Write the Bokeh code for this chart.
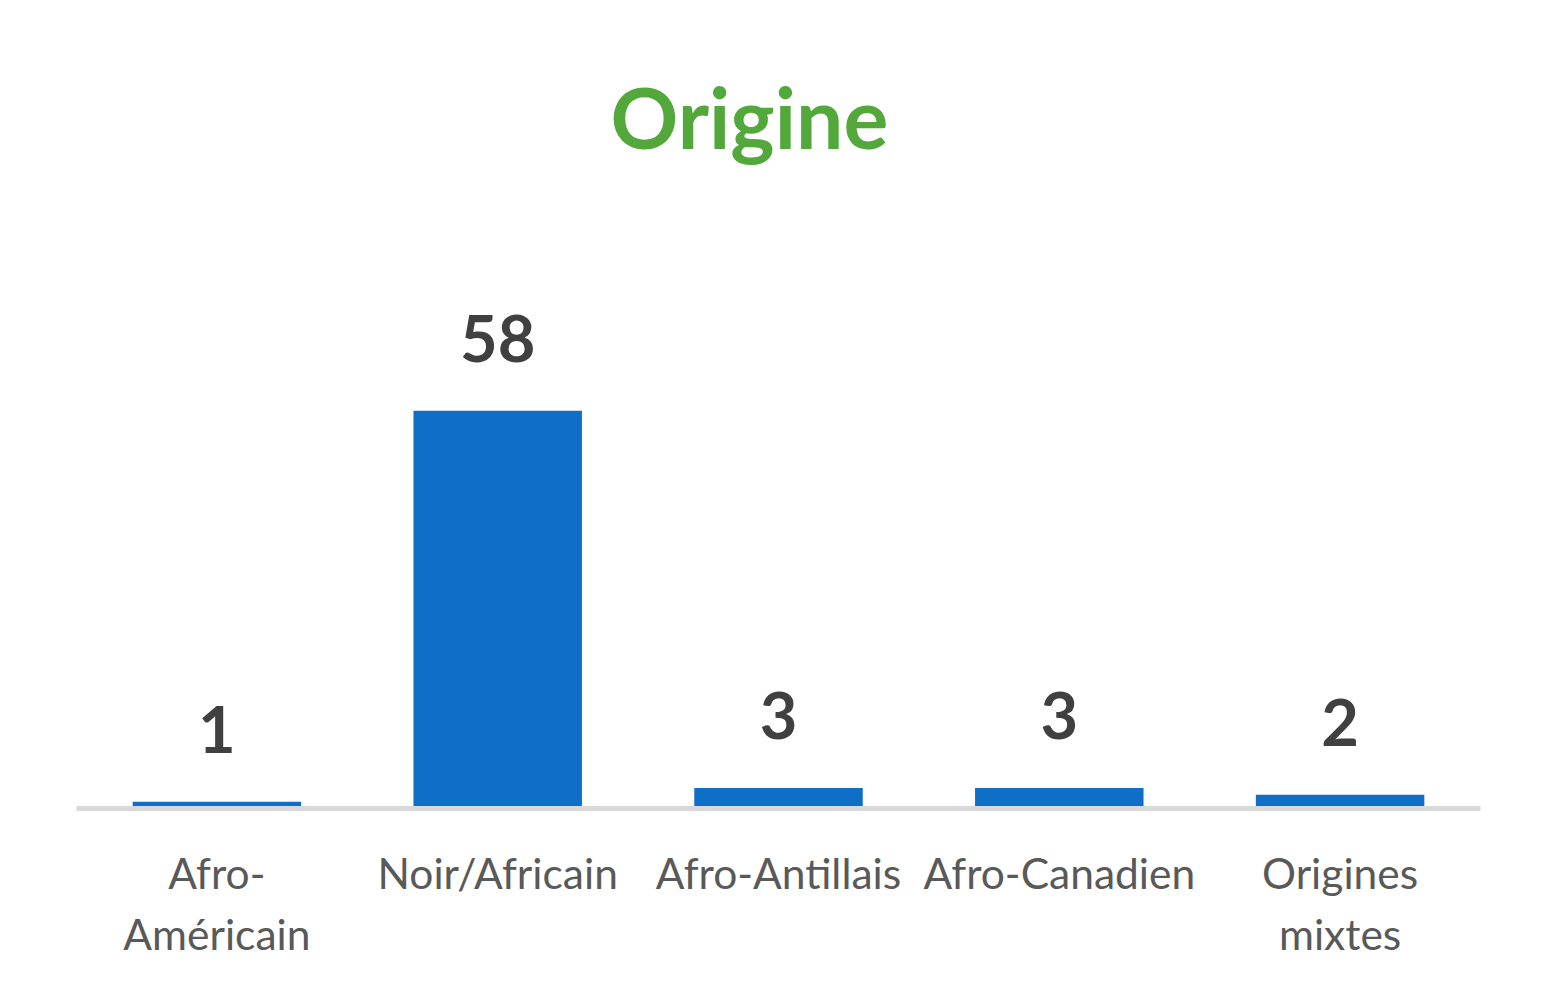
from bokeh.plotting import figure
from bokeh.models import ColumnDataSource, FactorRange, Range1d, Title
from bokeh.core.properties import value
from bokeh.embed import file_html
from bokeh.resources import INLINE

# ---- data ----
categories = ["Afro-\nAméricain", "Noir/Africain", "Afro-Antillais", "Afro-Canadien", "Origines\nmixtes"]
counts = [1, 58, 3, 3, 2]
count_labels = [str(v) for v in counts]
title_text = "Origine"

BLUE = "#0F6FC6"
GREEN = "#52A83B"
DARK = "#404040"
GREY_TXT = "#595959"
AXIS_GREY = "#D9D9D9"

source = ColumnDataSource(dict(cat=categories, val=counts, lab=count_labels))

p = figure(
    x_range=FactorRange(*categories, range_padding=0),
    y_range=Range1d(0, 92.9),
    width=1544, height=975,
    output_backend="svg", toolbar_location=None,
    min_border_left=76, min_border_right=64,
    min_border_top=171, min_border_bottom=167,
)

p.vbar(x="cat", top="val", width=0.6, bottom=0, source=source,
       fill_color=BLUE, line_color=None)

p.text(x="cat", y="val", text="lab", source=source,
       text_align="center", text_baseline="alphabetic", y_offset=-72,
       text_font=value("Lato"), text_font_style="bold",
       text_font_size="65px", text_color=DARK)

t = Title(text=title_text, align="left", offset=534,
          text_font="Lato", text_font_style="bold",
          text_font_size="84px", text_color=GREEN)
p.add_layout(t, "above")

p.yaxis.visible = False
p.xgrid.grid_line_color = None
p.ygrid.grid_line_color = None
p.outline_line_color = None

ax = p.xaxis[0]
ax.axis_line_color = AXIS_GREY
ax.axis_line_width = 5
ax.major_tick_line_color = None
ax.minor_tick_line_color = None
ax.major_label_standoff = 32
ax.major_label_text_font = "Lato"
ax.major_label_text_font_size = "42.5px"
ax.major_label_text_color = GREY_TXT
ax.major_label_orientation = "horizontal"

p.background_fill_color = "white"
p.border_fill_color = "white"

open("out.html", "w").write(file_html(p, INLINE))
